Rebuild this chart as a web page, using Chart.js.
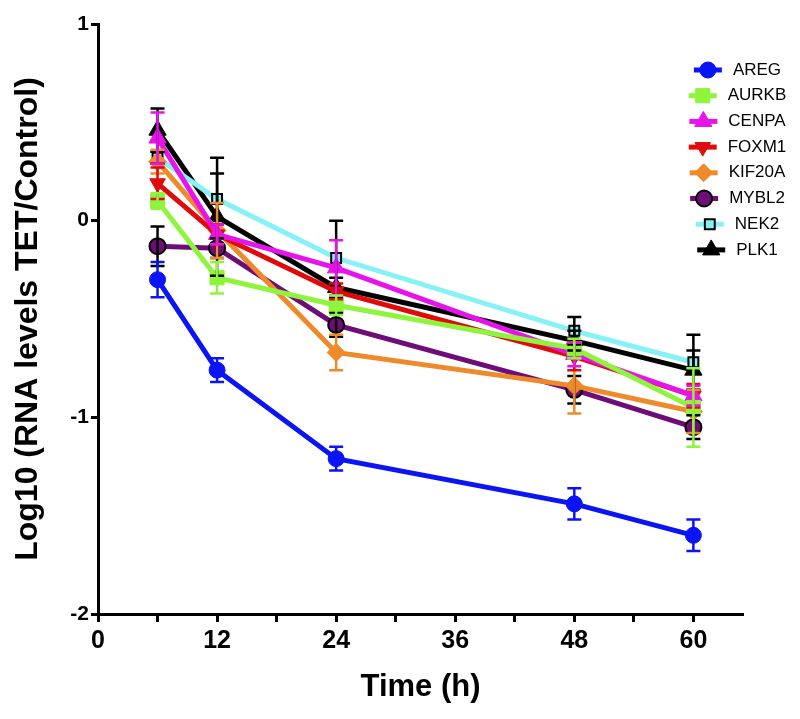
<!DOCTYPE html>
<html lang="en">
<head>
<meta charset="UTF-8" />
<title>Log10 (RNA levels TET/Control)</title>
<script src="https://cdn.jsdelivr.net/npm/chart.js@4.4.1/dist/chart.umd.min.js"></script>
<style>
  html, body { margin: 0; padding: 0; background: #fff; }
  .wrap { width: 800px; height: 719px; position: relative; }
</style>
</head>
<body>
<div class="wrap"><canvas id="chart"></canvas></div>
<script>
// time points (h)
const hours = [6, 12, 24, 48, 60]
const genes = ['AREG', 'AURKB', 'CENPA', 'FOXM1', 'KIF20A', 'MYBL2', 'NEK2', 'PLK1']

// mean log10 values, one array per gene
const areg   = [-0.30, -0.76, -1.21, -1.44, -1.60]
const aurkb  = [ 0.10, -0.29, -0.43, -0.65, -0.95]
const cenpa  = [ 0.42, -0.07, -0.24, -0.68, -0.89]
const foxm1  = [ 0.19, -0.07, -0.36, -0.69, -0.89]
const kif20a = [ 0.30, -0.05, -0.67, -0.84, -0.97]
const mybl2  = [-0.13, -0.14, -0.53, -0.86, -1.05]
const nek2   = [ 0.32,  0.11, -0.19, -0.56, -0.72]
const plk1   = [ 0.46,  0.02, -0.34, -0.61, -0.76]

// error bar half widths (SEM)
const aregErr   = [0.09, 0.06, 0.06, 0.08, 0.08]
const aurkbErr  = [0.04, 0.08, 0.05, 0.05, 0.20]
const cenpaErr  = [0.13, 0.05, 0.14, 0.06, 0.05]
const foxm1Err  = [0.08, 0.05, 0.04, 0.07, 0.06]
const kif20aErr = [0.06, 0.14, 0.09, 0.14, 0.11]
const mybl2Err  = [0.10, 0.05, 0.06, 0.07, 0.06]
const nek2Err   = [0.03, 0.13, 0.19, 0.07, 0.14]
const plk1Err   = [0.11, 0.30, 0.05, 0.05, 0.10]

const xTickLabels = [0, 12, 24, 36, 48, 60]
const yTickLabels = [-2, -1, 0, 1]

const values = [areg, aurkb, cenpa, foxm1, kif20a, mybl2, nek2, plk1]
const errors = [aregErr, aurkbErr, cenpaErr, foxm1Err, kif20aErr, mybl2Err, nek2Err, plk1Err]

const styles = [
  { color: '#0a14f5', point: 'circle', radius: 8, border: '#0a14f5', bw: 1, err: '#0a14f5' },
  { color: '#8ef53c', point: 'rect', radius: 10, border: '#8ef53c', bw: 1, err: '#8ef53c' },
  { color: '#e614ea', point: 'triangle', radius: 10, border: '#e614ea', bw: 1, err: '#e614ea' },
  { color: '#e00a0a', point: 'triangle', rotation: 180, radius: 9, border: '#e00a0a', bw: 1, err: '#e00a0a' },
  { color: '#ef8a2a', point: 'rectRot', radius: 9, border: '#ef8a2a', bw: 1, err: '#ef8a2a' },
  { color: '#6e0c78', point: 'circle', radius: 8, border: '#000000', bw: 2, err: '#000000' },
  { color: '#86f2f6', point: 'rect', radius: 7, border: '#000000', bw: 2, err: '#000000' },
  { color: '#000000', point: 'triangle', radius: 10, border: '#000000', bw: 1, err: '#000000' },
]

const datasets = genes.map((g, i) => ({
  label: g,
  data: hours.map((h, j) => ({ x: h, y: values[i][j] })),
  errs: errors[i],
  errColor: styles[i].err,
  borderColor: styles[i].color,
  backgroundColor: styles[i].color,
  borderWidth: 5,
  pointStyle: styles[i].point,
  pointRotation: styles[i].rotation || 0,
  pointRadius: styles[i].radius,
  pointBackgroundColor: styles[i].color,
  pointBorderColor: styles[i].border,
  pointBorderWidth: styles[i].bw,
  tension: 0,
}))

const errorBars = {
  id: 'errorBars',
  afterDatasetsDraw(chart) {
    const { ctx, scales } = chart
    ctx.save()
    ctx.lineWidth = 2.5
    for (let i = chart.data.datasets.length - 1; i >= 0; i--) {
      const ds = chart.data.datasets[i]
      ctx.strokeStyle = ds.errColor
      ds.data.forEach((p, j) => {
        const x = scales.x.getPixelForValue(p.x)
        const top = scales.y.getPixelForValue(p.y + ds.errs[j])
        const bot = scales.y.getPixelForValue(p.y - ds.errs[j])
        ctx.beginPath()
        ctx.moveTo(x, top); ctx.lineTo(x, bot)
        ctx.moveTo(x - 7, top); ctx.lineTo(x + 7, top)
        ctx.moveTo(x - 7, bot); ctx.lineTo(x + 7, bot)
        ctx.stroke()
      })
    }
    ctx.restore()
  },
}

const sideLegend = {
  id: 'sideLegend',
  afterDraw(chart) {
    const { ctx } = chart
    ctx.save()
    ctx.font = '17px "Liberation Sans", Arial, sans-serif'
    ctx.textBaseline = 'middle'
    chart.data.datasets.forEach((ds, i) => {
      const y = 70 + i * 25.7
      const w = ctx.measureText(ds.label).width
      const tx = 757 - w / 2
      const mx = tx - 25
      ctx.fillStyle = '#000'
      ctx.fillText(ds.label, tx, y)
      ctx.strokeStyle = ds.borderColor
      ctx.lineWidth = 5
      ctx.beginPath()
      ctx.moveTo(mx - 14, y); ctx.lineTo(mx + 14, y)
      ctx.stroke()
      ctx.fillStyle = ds.pointBackgroundColor
      ctx.strokeStyle = ds.pointBorderColor
      ctx.lineWidth = ds.pointBorderWidth
      Chart.helpers.drawPoint(ctx, {
        pointStyle: ds.pointStyle,
        rotation: ds.pointRotation,
        radius: ds.pointRadius,
        borderWidth: ds.pointBorderWidth,
      }, mx, y)
    })
    ctx.restore()
  },
}

Chart.defaults.font.family = '"Liberation Sans", Arial, sans-serif'
Chart.defaults.color = '#000'

new Chart(document.getElementById('chart'), {
  type: 'line',
  data: { datasets },
  plugins: [errorBars, sideLegend],
  options: {
    responsive: true,
    maintainAspectRatio: false,
    animation: false,
    layout: { padding: { top: 24, right: 57, bottom: 0, left: 0 } },
    plugins: {
      legend: { display: false },
      tooltip: { enabled: false },
    },
    scales: {
      x: {
        type: 'linear',
        min: 0,
        max: 65,
        afterFit(scale) { scale.height = 105 },
        ticks: {
          stepSize: 6,
          includeBounds: false,
          autoSkip: false,
          maxRotation: 0,
          padding: 4,
          font: { size: 25, weight: 'bold' },
          callback: (v) => (xTickLabels.includes(v) ? String(v) : ''),
        },
        grid: {
          drawOnChartArea: false,
          drawTicks: true,
          tickLength: 8,
          tickWidth: 3,
          tickColor: '#000',
        },
        border: { display: true, color: '#000', width: 3 },
        title: {
          display: true,
          text: 'Time (h)',
          font: { size: 31, weight: 'bold' },
          padding: { top: 0, bottom: 13 },
        },
      },
      y: {
        min: -2,
        max: 1,
        afterFit(scale) { scale.width = 98 },
        ticks: {
          stepSize: 1,
          padding: 2,
          font: { size: 21, weight: 'bold' },
          callback: (v) => (yTickLabels.includes(v) ? String(v) : ''),
        },
        grid: {
          drawOnChartArea: false,
          drawTicks: true,
          tickLength: 7,
          tickWidth: 3,
          tickColor: '#000',
        },
        border: { display: true, color: '#000', width: 3 },
        title: {
          display: true,
          text: 'Log10 (RNA levels TET/Control)',
          font: { size: 32, weight: 'bold' },
          padding: { top: 9, bottom: 0 },
        },
      },
    },
  },
})
</script>
</body>
</html>
